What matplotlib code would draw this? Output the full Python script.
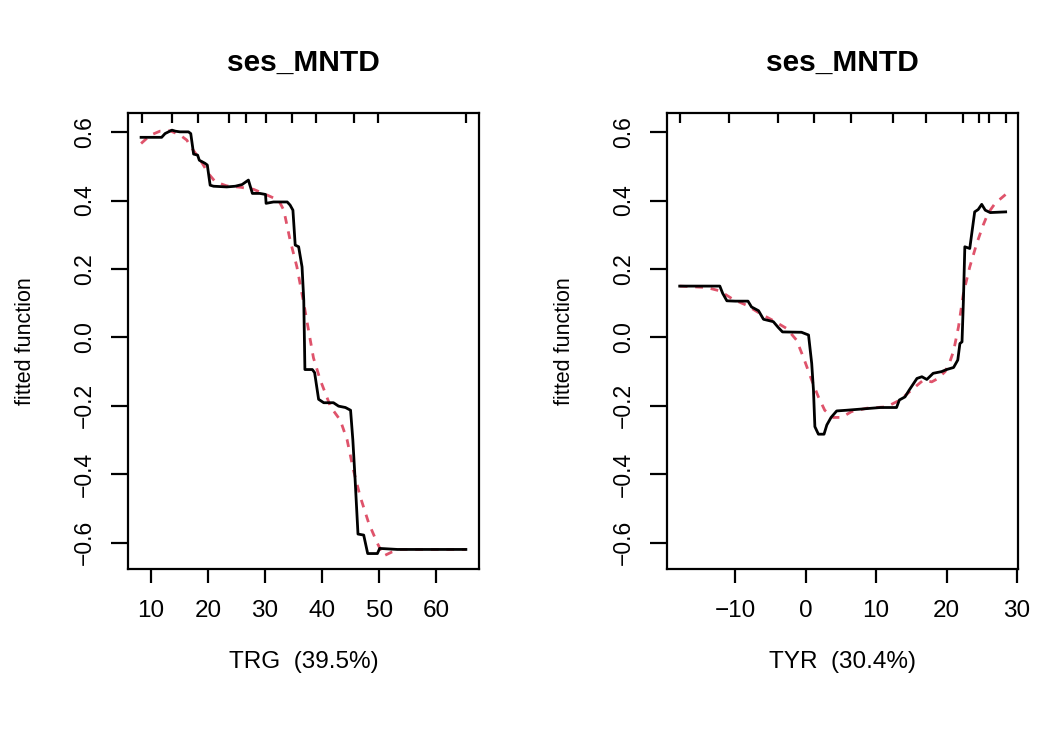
#!/usr/bin/env python3
import matplotlib

matplotlib.use("Agg")
import matplotlib.pyplot as plt

plt.rcParams["font.family"] = ["Liberation Sans", "DejaVu Sans"]

TITLE = "ses_MNTD"
YLABEL = "fitted function"
SMOOTH_COLOR = "#DF536B"
YTICKS = [-0.6, -0.4, -0.2, 0.0, 0.2, 0.4, 0.6]

# TRG partial dependence (step fit) and its smoothed version
trg_x = [8.3, 11.9, 12.5, 13.7, 14.3, 15.1, 16.6, 17.0, 17.5, 18.2, 18.5, 19.5, 19.9, 20.4,
         21.0, 23.3, 24.8, 26.0, 27.1, 27.8, 29.1, 30.1, 30.2, 31.5, 33.9, 34.4, 34.9, 35.3,
         35.9, 36.5, 36.8, 37.0, 38.3, 38.7, 39.4, 40.3, 42.0, 42.9, 44.1, 45.0, 45.4, 45.8,
         46.3, 47.3, 48.0, 49.7, 50.1, 53.2, 65.2]
trg_fit = [0.585, 0.585, 0.596, 0.606, 0.603, 0.601, 0.601, 0.596, 0.536, 0.533, 0.518, 0.509,
           0.504, 0.445, 0.442, 0.440, 0.442, 0.447, 0.460, 0.421, 0.421, 0.418, 0.392, 0.396,
           0.396, 0.387, 0.372, 0.270, 0.265, 0.206, 0.109, -0.094, -0.094, -0.103, -0.181,
           -0.191, -0.191, -0.201, -0.205, -0.213, -0.300, -0.417, -0.575, -0.578, -0.632,
           -0.632, -0.617, -0.620, -0.620]
trg_smooth_x = [8.3, 9.9, 11.6, 13.4, 15.1, 16.3, 17.2, 18.7, 20.1, 21.3, 23.3, 25.7, 28.0,
                30.4, 32.4, 33.3, 34.4, 35.6, 36.7, 37.7, 38.5, 39.7, 41.5, 43.2, 44.4, 45.5,
                46.7, 48.2, 49.7, 50.8, 52.3, 53.7, 65.2]
trg_smooth = [0.567, 0.591, 0.603, 0.604, 0.592, 0.577, 0.553, 0.518, 0.479, 0.455, 0.443,
              0.439, 0.433, 0.416, 0.401, 0.372, 0.285, 0.206, 0.109, 0.015, -0.060, -0.125,
              -0.203, -0.242, -0.300, -0.388, -0.466, -0.544, -0.602, -0.639, -0.627, -0.620,
              -0.620]
trg_deciles = [8.4, 13.7, 18.2, 23.7, 26.7, 30.2, 34.8, 39.0, 45.6, 49.8, 65.2]

# TYR partial dependence
tyr_x = [-17.9, -12.2, -11.8, -11.2, -10.0, -8.2, -7.7, -6.7, -6.0, -4.6, -3.9, -3.3, -0.6,
         0.4, 0.85, 1.1, 1.3, 1.8, 2.6, 3.0, 3.6, 4.4, 5.8, 8.2, 10.6, 12.9, 13.3, 14.1, 14.7,
         15.8, 16.5, 17.2, 18.1, 19.3, 20.0, 21.0, 21.6, 21.9, 22.2, 22.4, 22.6, 23.3, 24.0,
         24.5, 25.0, 25.5, 26.2, 28.4]
tyr_fit = [0.150, 0.150, 0.129, 0.107, 0.106, 0.106, 0.089, 0.078, 0.053, 0.046, 0.029, 0.016,
           0.015, 0.007, -0.076, -0.154, -0.261, -0.283, -0.283, -0.256, -0.234, -0.215,
           -0.213, -0.209, -0.205, -0.205, -0.183, -0.174, -0.154, -0.120, -0.115, -0.123,
           -0.105, -0.100, -0.094, -0.088, -0.066, -0.018, -0.013, 0.109, 0.265, 0.260, 0.367,
           0.374, 0.389, 0.372, 0.365, 0.367]
tyr_smooth_x = [-17.9, -14.1, -12.2, -10.3, -8.4, -6.5, -4.6, -2.7, -1.3, -0.3, 0.85, 1.8, 2.7,
                3.9, 5.1, 6.5, 8.7, 11.5, 13.4, 15.3, 16.7, 17.9, 18.8, 19.8, 20.4, 21.0, 21.7,
                22.4, 23.3, 24.3, 25.2, 25.9, 26.9, 28.4]
tyr_smooth = [0.150, 0.146, 0.136, 0.111, 0.094, 0.070, 0.049, 0.026, -0.008, -0.060, -0.125,
              -0.174, -0.213, -0.234, -0.234, -0.217, -0.207, -0.203, -0.183, -0.149, -0.125,
              -0.130, -0.120, -0.100, -0.076, -0.040, 0.031, 0.129, 0.206, 0.275, 0.328, 0.363,
              0.392, 0.418]
tyr_deciles = [-17.8, -10.9, -4.0, 1.2, 6.4, 12.4, 17.1, 22.3, 24.6, 26.0, 28.4]

PANELS = [
    {"label": "TRG  (39.5%)", "x": trg_x, "fit": trg_fit, "sx": trg_smooth_x, "smooth": trg_smooth,
     "rug": trg_deciles, "xticks": [10, 20, 30, 40, 50, 60], "xlim": (6.0, 67.5),
     "rect": [0.1234, 0.2191, 0.3385, 0.6263]},
    {"label": "TYR  (30.4%)", "x": tyr_x, "fit": tyr_fit, "sx": tyr_smooth_x, "smooth": tyr_smooth,
     "rug": tyr_deciles, "xticks": [-10, 0, 10, 20, 30], "xlim": (-19.66, 30.2),
     "rect": [0.6435, 0.2191, 0.3385, 0.6263]},
]


def draw_panel(fig, p):
    ax = fig.add_axes(p["rect"])
    ax.plot(p["x"], p["fit"], color="black", linewidth=2.0, solid_joinstyle="round", zorder=3)
    ax.plot(p["sx"], p["smooth"], color=SMOOTH_COLOR, linewidth=2.0, dashes=(2.8, 2.8), zorder=2)

    # decile rug along the top edge
    ax.vlines(p["rug"], 0.978, 1.0, transform=ax.get_xaxis_transform(), color="black",
              linewidth=1.6, clip_on=False)

    ax.set_xlim(*p["xlim"])
    ax.set_ylim(-0.678, 0.657)
    ax.set_xticks(p["xticks"])
    ax.set_yticks(YTICKS)
    ax.set_yticklabels([f"{v:.1f}".replace("-", "\u2212") for v in YTICKS],
                       rotation=90, va="center")
    ax.set_xticklabels([str(v).replace("-", "\u2212") for v in p["xticks"]])
    ax.tick_params(axis="x", length=10, width=1.6, pad=12, labelsize=17.5)
    ax.tick_params(axis="y", length=12, width=1.6, pad=11, labelsize=16.5)
    for sp in ax.spines.values():
        sp.set_linewidth(1.6)

    ax.set_title(TITLE, fontsize=21.5, fontweight="bold", pad=30)
    ax.set_xlabel(p["label"], fontsize=17.5)
    ax.xaxis.set_label_coords(0.5, -0.18)
    ax.set_ylabel(YLABEL, fontsize=15.5)
    ax.yaxis.set_label_coords(-0.262, 0.5)
    return ax


def main():
    fig = plt.figure(figsize=(10.37, 7.29), dpi=100)
    fig.patch.set_facecolor("white")
    for p in PANELS:
        draw_panel(fig, p)
    fig.savefig("out.png", dpi=100)
    plt.close(fig)


if __name__ == "__main__":
    main()
